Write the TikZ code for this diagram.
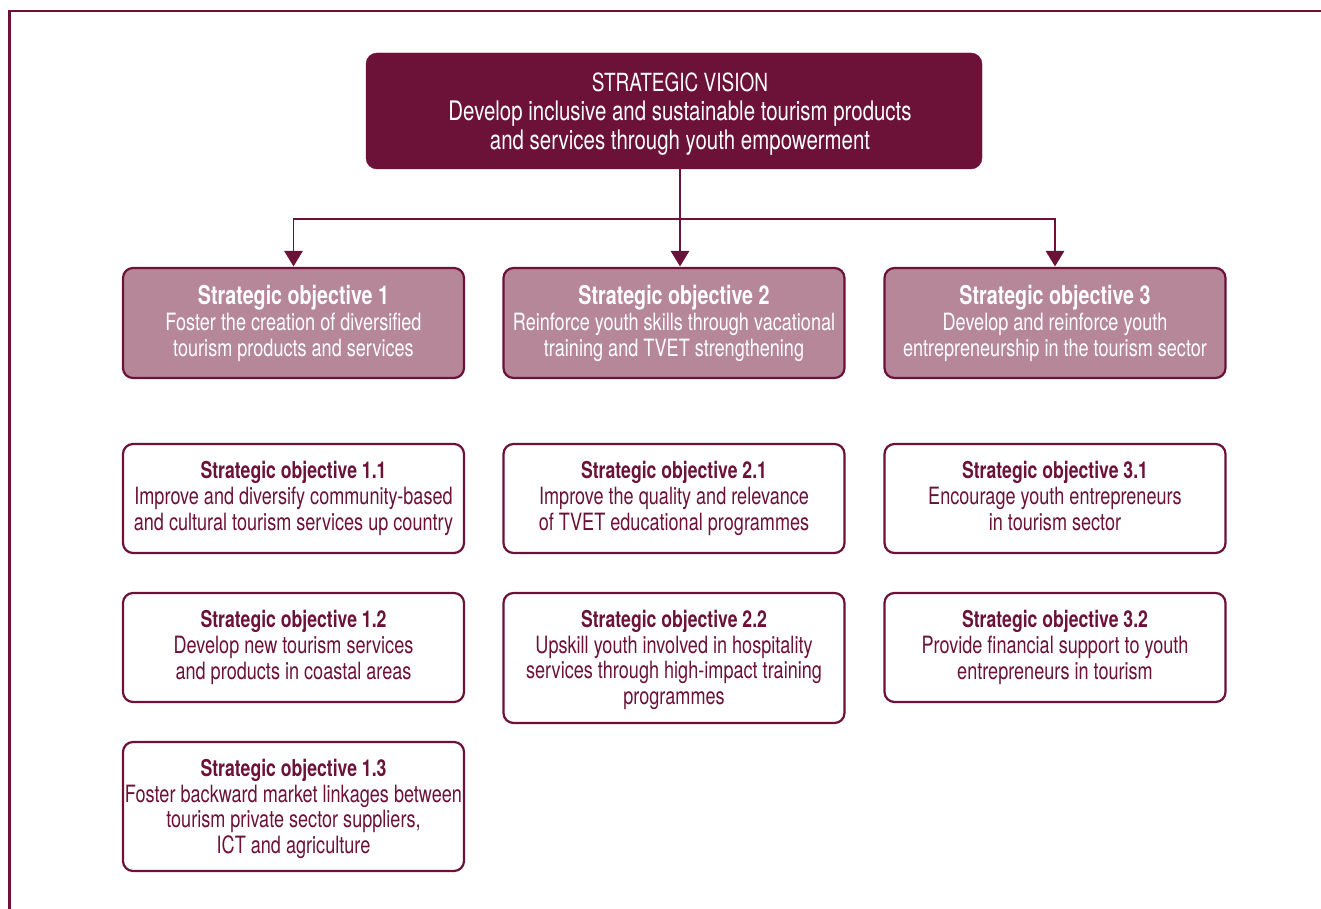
\documentclass[tikz,border=0pt]{standalone}
\usepackage{fontspec}
\setmainfont{TeX Gyre Heros}[FakeStretch=0.76]
\usetikzlibrary{arrows.meta,calc}
\definecolor{vmaroon}{RGB}{108,17,56}
\definecolor{vrose}{RGB}{182,134,153}
\newcommand{\vtitle}[1]{{\fontsize{25}{29}\selectfont #1}}
\newcommand{\otitle}[1]{{\fontsize{25.9}{26}\selectfont\bfseries #1}}
\newcommand{\stitle}[1]{{\fontsize{23.2}{25.7}\selectfont\bfseries #1}}
\begin{document}
\begin{tikzpicture}[x=1pt,y=-1pt,
  visbox/.style={fill=vmaroon, draw=vmaroon, rounded corners=11pt, minimum width=616pt, minimum height=116pt, inner sep=0pt},
  vistxt/.style={text=white, align=center, font=\fontsize{26.9}{29}\selectfont, inner sep=0pt},
  objbox/.style={fill=vrose, draw=vmaroon, line width=2.2pt, rounded corners=10pt, text=white, minimum width=341pt, minimum height=110pt, align=center, font=\fontsize{23.8}{26}\selectfont, inner sep=0pt},
  subbox/.style={fill=white, draw=vmaroon, line width=2.2pt, rounded corners=10pt, minimum width=341pt, inner sep=0pt},
  subtxt/.style={text=vmaroon, align=center, font=\fontsize{23.8}{25.7}\selectfont, inner sep=0pt, anchor=north},
  conn/.style={draw=vmaroon, line width=1.3pt},
  arr/.style={conn, -{Triangle[width=18.5pt,length=15.5pt]}, shorten >=0.5pt},
  frame/.style={draw=vmaroon, line width=2.2pt}
]
\useasboundingbox (0,0) rectangle (1321,909);
\fill[white] (0,0) rectangle (1321,909);
% frame
\coordinate (fb) at (9.5,909);
\coordinate (ft) at (9.5,11);
\coordinate (fr) at (1321,11);
\draw[frame] (fb) -- (ft) -- (fr);

% vision
\node[visbox] (vis) at (674,111) {};
\node[vistxt] (vistext) at (680,114) {\vtitle{STRATEGIC VISION}\\Develop inclusive and sustainable tourism products\\and services through youth empowerment};

% objectives
\node[objbox] (o1) at (293.5,323) {\otitle{Strategic objective 1}\\Foster the creation of diversified\\tourism products and services};
\node[objbox] (o2) at (674,323) {\otitle{Strategic objective 2}\\Reinforce youth skills through vacational\\training and TVET strengthening};
\node[objbox] (o3) at (1055,323) {\otitle{Strategic objective 3}\\Develop and reinforce youth\\entrepreneurship in the tourism sector};

% connectors
\coordinate (j) at (680,219);
\draw[arr] ([xshift=6pt]vis.south) -- ([xshift=6pt]o2.north);
\draw[arr] (j) -| (o1.north);
\draw[arr] (j) -| (o3.north);

% sub objective boxes
\node[subbox, minimum height=109pt] (s11) at (293.5,498.5) {};
\node[subbox, minimum height=109pt] (s21) at (674,498.5) {};
\node[subbox, minimum height=109pt] (s31) at (1055,498.5) {};
\node[subbox, minimum height=109pt] (s12) at (293.5,647.5) {};
\node[subbox, minimum height=130pt] (s22) at (674,658) {};
\node[subbox, minimum height=109pt] (s32) at (1055,647.5) {};
\node[subbox, minimum height=129pt] (s13) at (293.5,806.5) {};

% sub objective texts
\node[subtxt] (t11) at ($(s11.north)+(0,18.5)$) {\stitle{Strategic objective 1.1}\\Improve and diversify community-based\\and cultural tourism services up country};
\node[subtxt] (t21) at ($(s21.north)+(0,18.5)$) {\stitle{Strategic objective 2.1}\\Improve the quality and relevance\\of TVET educational programmes};
\node[subtxt] (t31) at ($(s31.north)+(0,18.5)$) {\stitle{Strategic objective 3.1}\\Encourage youth entrepreneurs\\in tourism sector};
\node[subtxt] (t12) at ($(s12.north)+(0,18.5)$) {\stitle{Strategic objective 1.2}\\Develop new tourism services\\and products in coastal areas};
\node[subtxt] (t22) at ($(s22.north)+(0,18)$) {\stitle{Strategic objective 2.2}\\Upskill youth involved in hospitality\\services through high-impact training\\programmes};
\node[subtxt] (t32) at ($(s32.north)+(0,18.5)$) {\stitle{Strategic objective 3.2}\\Provide financial support to youth\\entrepreneurs in tourism};
\node[subtxt] (t13) at ($(s13.north)+(0,18)$) {\stitle{Strategic objective 1.3}\\Foster backward market linkages between\\tourism private sector suppliers,\\ICT and agriculture};
\end{tikzpicture}
\end{document}
